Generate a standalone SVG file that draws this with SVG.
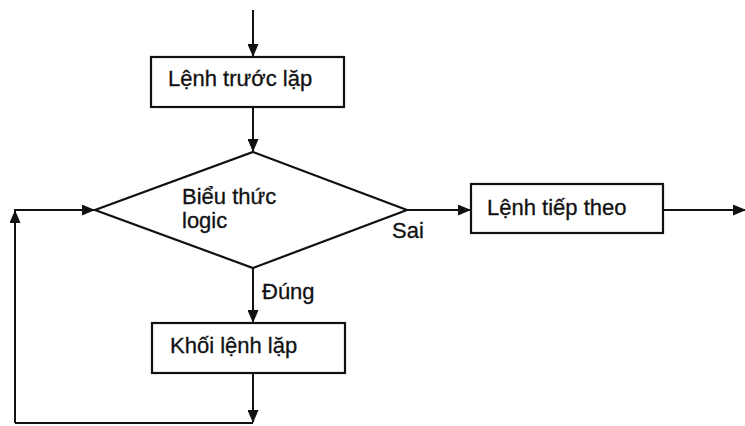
<svg xmlns="http://www.w3.org/2000/svg" width="745" height="426" viewBox="0 0 745 426">
<defs>
<marker id="ah" markerWidth="13" markerHeight="11" refX="12" refY="5.5" orient="auto" markerUnits="userSpaceOnUse">
<path d="M0,0 L13,5.5 L0,11 Z" fill="#111"/>
</marker>
<style>
.box{fill:#fff;stroke:#111;stroke-width:2.2}
.ln{fill:none;stroke:#111;stroke-width:2}
.t{font-family:"Liberation Sans",Arial,sans-serif;font-size:22px;fill:#111;stroke:#111;stroke-width:0.3}
</style>
</defs>
<rect width="745" height="426" fill="#fff"/>
<g id="connectors">
<path class="ln" d="M253,10 V56" marker-end="url(#ah)"/>
<path class="ln" d="M253,107 V151" marker-end="url(#ah)"/>
<path class="ln" d="M407,210 H470" marker-end="url(#ah)"/>
<path class="ln" d="M663,210 H745" marker-end="url(#ah)"/>
<path class="ln" d="M253,268 V322" marker-end="url(#ah)"/>
<path class="ln" d="M253,373 V422" marker-end="url(#ah)"/>
<path class="ln" d="M253,423 H15"/>
<path class="ln" d="M15,423 V211" marker-end="url(#ah)"/>
<path class="ln" d="M14,210 H94" marker-end="url(#ah)"/>
</g>
<g id="n1"><rect class="box" x="151" y="57" width="193" height="50"/><text class="t" x="168" y="86">Lệnh trước lặp</text></g>
<g id="n2"><path class="box" d="M253,152 L407,210 L253,268 L95,210 Z"/><text class="t" x="182" y="204">Biểu thức</text><text class="t" x="182" y="228">logic</text></g>
<g id="n3"><rect class="box" x="471" y="184" width="192" height="49"/><text class="t" x="487" y="215">Lệnh tiếp theo</text></g>
<g id="n4"><rect class="box" x="152" y="323" width="193" height="50"/><text class="t" x="170" y="353">Khối lệnh lặp</text></g>
<g id="labels"><text class="t" x="392" y="238">Sai</text><text class="t" x="262" y="299">Đúng</text></g>
</svg>
